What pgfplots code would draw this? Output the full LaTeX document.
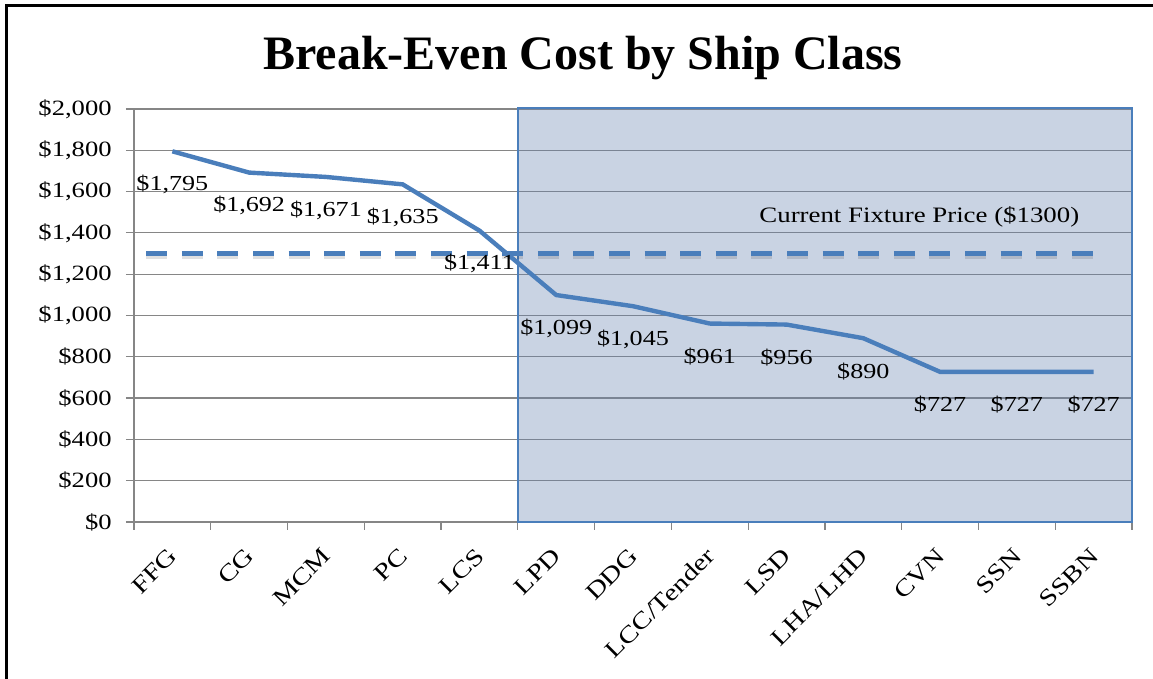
\documentclass[border=0pt]{standalone}
\usepackage{fontspec}
\setmainfont[FakeStretch=1.22]{Liberation Serif}
\newfontfamily\titlefont{Liberation Serif}
\usepackage{pgfplots}
\usepackage{pgfplotstable}
\pgfplotsset{compat=1.18}
\definecolor{lineblue}{RGB}{74,126,187}
\definecolor{gridgray}{RGB}{134,134,134}
\definecolor{boxbase}{RGB}{101,129,175}

\pgfplotstableread{
x y label
0 1795 {\$1,795}
1 1692 {\$1,692}
2 1671 {\$1,671}
3 1635 {\$1,635}
4 1411 {\$1,411}
5 1099 {\$1,099}
6 1045 {\$1,045}
7 961 {\$961}
8 956 {\$956}
9 890 {\$890}
10 727 {\$727}
11 727 {\$727}
12 727 {\$727}
}\datatable

\begin{document}
\begin{tikzpicture}[font=\fontsize{10.7}{12}\selectfont]
\useasboundingbox (0,0) rectangle (576.5pt,339.5pt);
\draw[line width=1.5pt] (3pt,0) -- (3pt,336.5pt) -- (577pt,336.5pt);
\node[anchor=base, font=\titlefont\bfseries\fontsize{24}{29}\selectfont] at (291.5pt,304.5pt) {Break-Even Cost by Ship Class};
\begin{axis}[
  at={(67pt,78.5pt)}, anchor=south west,
  scale only axis, width=499pt, height=206.5pt,
  xmin=-0.5, xmax=12.5, ymin=0, ymax=2000,
  clip=false,
  axis x line*=bottom, axis y line*=left,
  axis line style={gridgray, line width=0.6pt, -},
  ymajorgrids, grid style={gridgray, line width=0.6pt},
  tick align=outside, major tick length=4pt,
  tick style={gridgray, line width=0.6pt},
  every tick label/.append style={font=\fontsize{10.9}{12}\selectfont},
  ytick={0,200,...,2000},
  yticklabels={\$0,\$200,\$400,\$600,\$800,{\$1,000},{\$1,200},{\$1,400},{\$1,600},{\$1,800},{\$2,000}},
  yticklabel style={text=black, inner sep=0pt, xshift=-7pt},
  xtick={-0.5,0.5,...,12.5},
  xticklabels={},
  extra x ticks={0,1,...,12},
  extra x tick labels={FFG,CG,MCM,PC,LCS,LPD,DDG,LCC/Tender,LSD,LHA/LHD,CVN,SSN,SSBN},
  extra x tick style={major tick length=0pt, xticklabel style={xshift=0.5pt, yshift=-15pt, rotate=45, anchor=east, text=black, inner sep=0pt, font=\fontsize{11.8}{13}\selectfont}},
]
\addplot[draw=lineblue, line width=1pt, fill=boxbase, fill opacity=0.35] coordinates {(4.5,0) (4.5,2003) (12.5,2003) (12.5,0)} -- cycle;
\addplot[black, opacity=0.12, line width=2.5pt, dash pattern=on 10.5pt off 7.3pt, yshift=-1.5pt] coordinates {(-0.34,1300) (12.08,1300)};
\addplot[lineblue, line width=2.5pt, dash pattern=on 10.5pt off 7.3pt] coordinates {(-0.34,1300) (12.08,1300)};
\addplot[lineblue, line width=2.2pt, mark=none, nodes near coords, point meta=explicit symbolic,
  nodes near coords style={anchor=center, yshift=-16.5pt, text=black, inner sep=0pt, font=\fontsize{10.7}{12}\selectfont}]
  table[x=x, y=y, meta=label] {\datatable};
\node[anchor=base, font=\fontsize{11}{13}\selectfont] at (axis cs:9.73,1448) {Current Fixture Price (\$1300)};
\end{axis}
\end{tikzpicture}
\end{document}
